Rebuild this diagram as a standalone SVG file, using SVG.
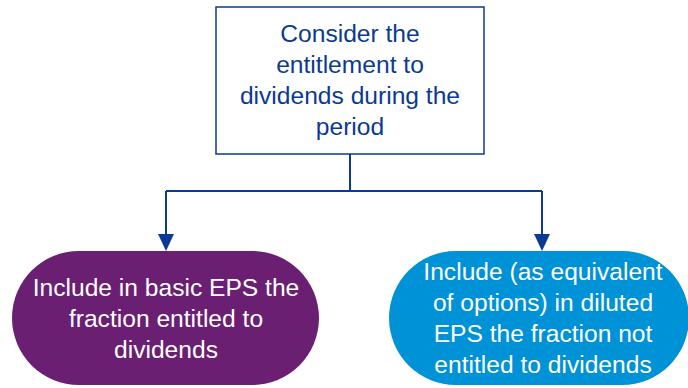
<svg xmlns="http://www.w3.org/2000/svg" width="688" height="388" viewBox="0 0 688 388">
<style>
text{font-family:"Liberation Sans",Arial,sans-serif;font-size:24.6px;text-anchor:middle}
.conn{fill:none;stroke:#0B3A94;stroke-width:2}
.head{fill:#0B3A94}
.dark{fill:#0B3A94}
.light{fill:#ffffff}
</style>
<rect width="688" height="388" fill="#ffffff"/>
<g id="connectors">
<path class="conn" d="M350,154 V191"/>
<path class="conn" d="M166,191 H542"/>
<path class="conn" d="M166,191 V236"/>
<path class="conn" d="M542,191 V236"/>
<path class="head" d="M158,234 L174,234 L166,251 Z"/>
<path class="head" d="M534,234 L550,234 L542,251 Z"/>
</g>
<g id="top">
<rect x="216" y="7" width="268" height="147" fill="#ffffff" stroke="#0B3A94" stroke-width="1.5"/>
<text class="dark" x="350" y="42">Consider the</text>
<text class="dark" x="350" y="73">entitlement to</text>
<text class="dark" x="350" y="104">dividends during the</text>
<text class="dark" x="350" y="135">period</text>
</g>
<g id="left">
<rect x="12" y="251" width="307" height="134" rx="67" fill="#6B1F72"/>
<text class="light" x="166" y="296">Include in basic EPS the</text>
<text class="light" x="166" y="327">fraction entitled to</text>
<text class="light" x="166" y="358">dividends</text>
</g>
<g id="right">
<rect x="389" y="251" width="300" height="134" rx="67" fill="#0092D6"/>
<text class="light" x="543" y="280">Include (as equivalent</text>
<text class="light" x="543" y="311">of options) in diluted</text>
<text class="light" x="543" y="342">EPS the fraction not</text>
<text class="light" x="543" y="373">entitled to dividends</text>
</g>
</svg>
